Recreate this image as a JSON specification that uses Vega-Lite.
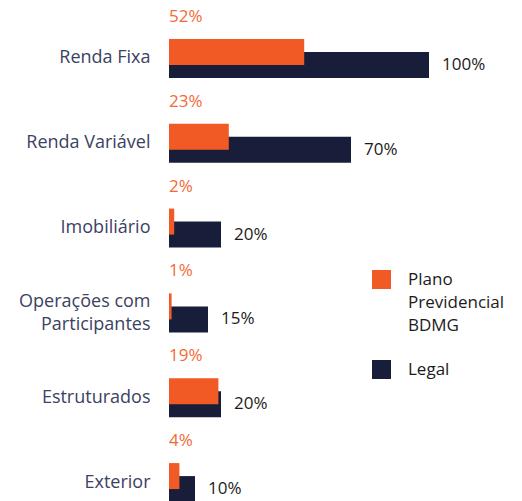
{
  "$schema": "https://vega.github.io/schema/vega-lite/v6.json",
  "width": 260,
  "height": 485,
  "autosize": {"type": "none"},
  "padding": {"left": 169, "top": 16, "right": 93, "bottom": 0},
  "background": "#ffffff",
  "config": {
    "view": {"stroke": null},
    "font": "Open Sans",
    "style": {"guide-label": {"lineHeight": 23}}
  },
  "data": {
    "values": [
      {"categoria": "Renda Fixa", "serie": "Plano Previdencial BDMG", "valor": 52},
      {"categoria": "Renda Fixa", "serie": "Legal", "valor": 100},
      {"categoria": "Renda Variável", "serie": "Plano Previdencial BDMG", "valor": 23},
      {"categoria": "Renda Variável", "serie": "Legal", "valor": 70},
      {"categoria": "Imobiliário", "serie": "Plano Previdencial BDMG", "valor": 2},
      {"categoria": "Imobiliário", "serie": "Legal", "valor": 20},
      {"categoria": "Operações com Participantes", "serie": "Plano Previdencial BDMG", "valor": 1},
      {"categoria": "Operações com Participantes", "serie": "Legal", "valor": 15},
      {"categoria": "Estruturados", "serie": "Plano Previdencial BDMG", "valor": 19},
      {"categoria": "Estruturados", "serie": "Legal", "valor": 20},
      {"categoria": "Exterior", "serie": "Plano Previdencial BDMG", "valor": 4},
      {"categoria": "Exterior", "serie": "Legal", "valor": 10}
    ]
  },
  "transform": [{"calculate": "datum.valor + '%'", "as": "rotulo"}],
  "encoding": {
    "y": {
      "field": "categoria",
      "type": "nominal",
      "sort": ["Renda Fixa", "Renda Variável", "Imobiliário", "Operações com Participantes", "Estruturados", "Exterior"],
      "scale": {"range": [0, 509], "paddingInner": 0, "paddingOuter": 0},
      "axis": {
        "title": null,
        "ticks": false,
        "domain": false,
        "grid": false,
        "labelPadding": 19,
        "labelFontSize": 18,
        "labelColor": "#3b4262",
        "labelLimit": 300,
        "labelLineHeight": 23,
        "labelOffset": {"condition": {"test": "datum.label == 'Operações com Participantes'", "value": -11}, "value": 0},
        "labelExpr": "datum.label == 'Operações com Participantes' ? ['Operações com', 'Participantes'] : datum.label"
      }
    }
  },
  "layer": [
    {
      "transform": [{"filter": "datum.serie == 'Legal'"}],
      "mark": {"type": "bar", "height": 26, "yOffset": 6.5},
      "encoding": {
        "x": {"field": "valor", "type": "quantitative", "scale": {"domain": [0, 100]}, "axis": null},
        "color": {
          "field": "serie",
          "type": "nominal",
          "scale": {"domain": ["Plano Previdencial BDMG", "Legal"], "range": ["#f15a24", "#181e3a"]},
          "legend": {
            "title": null,
            "orient": "none",
            "legendX": 203,
            "legendY": 254,
            "padding": 0,
            "symbolType": "square",
            "symbolSize": 361,
            "symbolStrokeWidth": 0,
            "labelFontSize": 17,
            "labelColor": "#1b1b1b",
            "labelOffset": 17,
            "labelLimit": 200,
            "rowPadding": 26,
            "labelExpr": "datum.label == 'Plano Previdencial BDMG' ? ['Plano', 'Previdencial', 'BDMG'] : datum.label"
          }
        }
      }
    },
    {
      "transform": [{"filter": "datum.serie != 'Legal'"}],
      "mark": {"type": "bar", "height": 26, "yOffset": -6.5},
      "encoding": {
        "x": {"field": "valor", "type": "quantitative"},
        "color": {"field": "serie", "type": "nominal"}
      }
    },
    {
      "transform": [{"filter": "datum.serie != 'Legal'"}],
      "mark": {"type": "text", "align": "left", "baseline": "middle", "yOffset": -41.5, "fontSize": 17, "color": "#f26a35"},
      "encoding": {
        "x": {"datum": 0, "type": "quantitative"},
        "text": {"field": "rotulo"}
      }
    },
    {
      "transform": [{"filter": "datum.serie == 'Legal'"}],
      "mark": {"type": "text", "align": "left", "baseline": "middle", "yOffset": 6.5, "dx": 13, "fontSize": 17, "color": "#1b1b1b"},
      "encoding": {
        "x": {"field": "valor", "type": "quantitative"},
        "text": {"field": "rotulo"}
      }
    }
  ]
}
